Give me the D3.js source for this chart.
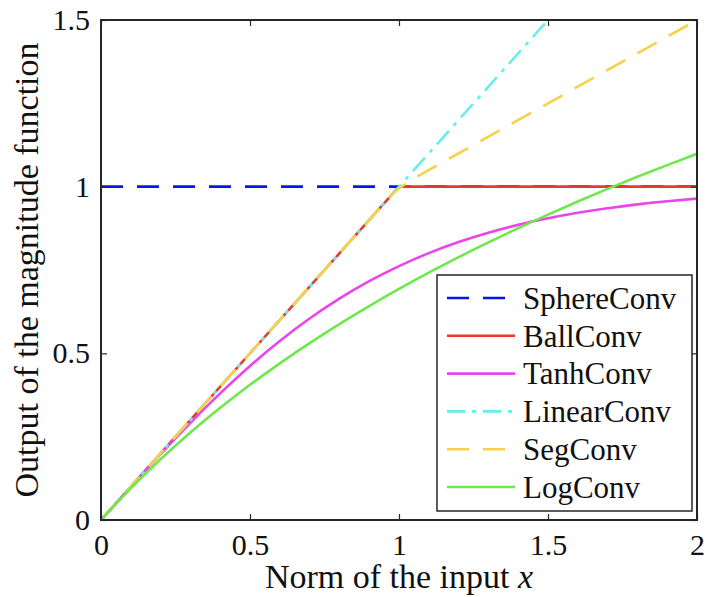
<!DOCTYPE html>
<html>
<head>
<meta charset="utf-8">
<script src="https://cdn.jsdelivr.net/npm/d3@7"></script>
<style>
  html, body { margin: 0; padding: 0; background: #fff; }
  svg { display: block; }
  text { font-family: "Liberation Serif", "DejaVu Serif", serif; fill: #111; }
</style>
</head>
<body>
<svg id="chart" width="708" height="597"></svg>
<script>
// ---- data ----
const xSamples = [0, 0.1, 0.2, 0.3, 0.4, 0.5, 0.6, 0.7, 0.8, 0.9, 1.0, 1.1, 1.2, 1.3, 1.4, 1.5, 1.6, 1.7, 1.8, 1.9, 2.0];
const sphereX = [0, 2];
const sphereY = [1, 1];
const ballX = [0, 1, 2];
const ballY = [0, 1, 1];
const tanhY = [0, 0.0997, 0.1974, 0.2913, 0.3799, 0.4621, 0.5370, 0.6044, 0.6640, 0.7163, 0.7616, 0.8005, 0.8337, 0.8617, 0.8854, 0.9051, 0.9217, 0.9354, 0.9468, 0.9562, 0.9640];
const linearX = [0, 1.5];
const linearY = [0, 1.5];
const segX = [0, 0.97, 1.0, 1.04, 2];
const segY = [0, 0.97, 0.995, 1.02, 1.5];
const logY = [0, 0.0953, 0.1823, 0.2624, 0.3365, 0.4055, 0.4700, 0.5306, 0.5878, 0.6419, 0.6931, 0.7419, 0.7885, 0.8329, 0.8755, 0.9163, 0.9555, 0.9933, 1.0296, 1.0647, 1.0986];
const xTicks = [0, 0.5, 1, 1.5, 2];
const yTicks = [0, 0.5, 1, 1.5];
const seriesNames = ["SphereConv", "BallConv", "TanhConv", "LinearConv", "SegConv", "LogConv"];

// ---- layout ----
const svg = d3.select("#chart");
const L = 101, R = 697, T = 20, B = 520;
const x = d3.scaleLinear().domain([0, 2]).range([L, R]);
const y = d3.scaleLinear().domain([0, 1.5]).range([B, T]);

const zip = (xs, ys) => xs.map((v, i) => [v, ys[i]]);
const series = [
  { name: seriesNames[0], pts: zip(sphereX, sphereY), color: "#0a14f0", dash: "22,14", curve: d3.curveLinear },
  { name: seriesNames[1], pts: zip(ballX, ballY), color: "#e8392b", dash: null, curve: d3.curveLinear },
  { name: seriesNames[2], pts: zip(xSamples, tanhY), color: "#ea45ea", dash: null, curve: d3.curveMonotoneX },
  { name: seriesNames[3], pts: zip(linearX, linearY), color: "#66eeee", dash: "18,7,4,7", curve: d3.curveLinear },
  { name: seriesNames[4], pts: zip(segX, segY), color: "#f6d24a", dash: "22,14", curve: d3.curveLinear },
  { name: seriesNames[5], pts: zip(xSamples, logY), color: "#6ee84c", dash: null, curve: d3.curveMonotoneX }
];

svg.append("defs").append("clipPath").attr("id", "clip")
  .append("rect").attr("x", L).attr("y", T).attr("width", R - L).attr("height", B - T);

const plot = svg.append("g").attr("clip-path", "url(#clip)");
series.forEach(s => {
  const line = d3.line().x(d => x(d[0])).y(d => y(d[1])).curve(s.curve);
  plot.append("path").datum(s.pts)
    .attr("d", line)
    .attr("fill", "none")
    .attr("stroke", s.color)
    .attr("stroke-width", 2.6)
    .attr("stroke-dasharray", s.dash);
});

// ---- axes (box with inward ticks) ----
const tickLen = 6;
const axColor = "#262626";
const axB = d3.axisBottom(x).tickValues(xTicks).tickSize(-tickLen).tickPadding(14).tickFormat(d3.format("~g"));
const axT = d3.axisTop(x).tickValues(xTicks).tickSize(-tickLen).tickFormat("");
const axLft = d3.axisLeft(y).tickValues(yTicks).tickSize(-tickLen).tickPadding(11).tickFormat(d3.format("~g"));
const axRt = d3.axisRight(y).tickValues(yTicks).tickSize(-tickLen).tickFormat("");

function styleAxis(g) {
  g.select(".domain").remove();
  g.selectAll(".tick line").attr("stroke", axColor).attr("stroke-width", 1.2);
  g.selectAll(".tick text").attr("font-size", 30).attr("font-family", "Liberation Serif").attr("fill", "#111");
}
svg.append("g").attr("transform", `translate(0,${B})`).call(axB).call(styleAxis);
svg.append("g").attr("transform", `translate(0,${T})`).call(axT).call(styleAxis);
svg.append("g").attr("transform", `translate(${L},0)`).call(axLft).call(styleAxis);
svg.append("g").attr("transform", `translate(${R},0)`).call(axRt).call(styleAxis);

svg.append("rect").attr("x", L).attr("y", T).attr("width", R - L).attr("height", B - T)
  .attr("fill", "none").attr("stroke", axColor).attr("stroke-width", 2);

// ---- axis titles ----
const xt = svg.append("text").attr("x", (L + R) / 2).attr("y", 588)
  .attr("text-anchor", "middle").attr("font-size", 34);
xt.append("tspan").text("Norm of the input ");
xt.append("tspan").attr("font-style", "italic").text("x");

svg.append("text")
  .attr("transform", `translate(38,${(T + B) / 2}) rotate(-90)`)
  .attr("text-anchor", "middle").attr("font-size", 34)
  .text("Output of the magnitude function");

// ---- legend ----
const lg = svg.append("g");
const lgX = 437, lgY = 275, lgW = 255, lgH = 236;
lg.append("rect").attr("x", lgX).attr("y", lgY).attr("width", lgW).attr("height", lgH)
  .attr("fill", "#fff").attr("stroke", axColor).attr("stroke-width", 1.5);
series.forEach((s, i) => {
  const cy = 298 + i * 37.8;
  lg.append("line").attr("x1", 447).attr("x2", 515).attr("y1", cy).attr("y2", cy)
    .attr("stroke", s.color).attr("stroke-width", 2.6).attr("stroke-dasharray", s.dash);
  lg.append("text").attr("x", 523).attr("y", cy).attr("dy", "0.35em")
    .attr("font-size", 31).text(s.name);
});
</script>
</body>
</html>
